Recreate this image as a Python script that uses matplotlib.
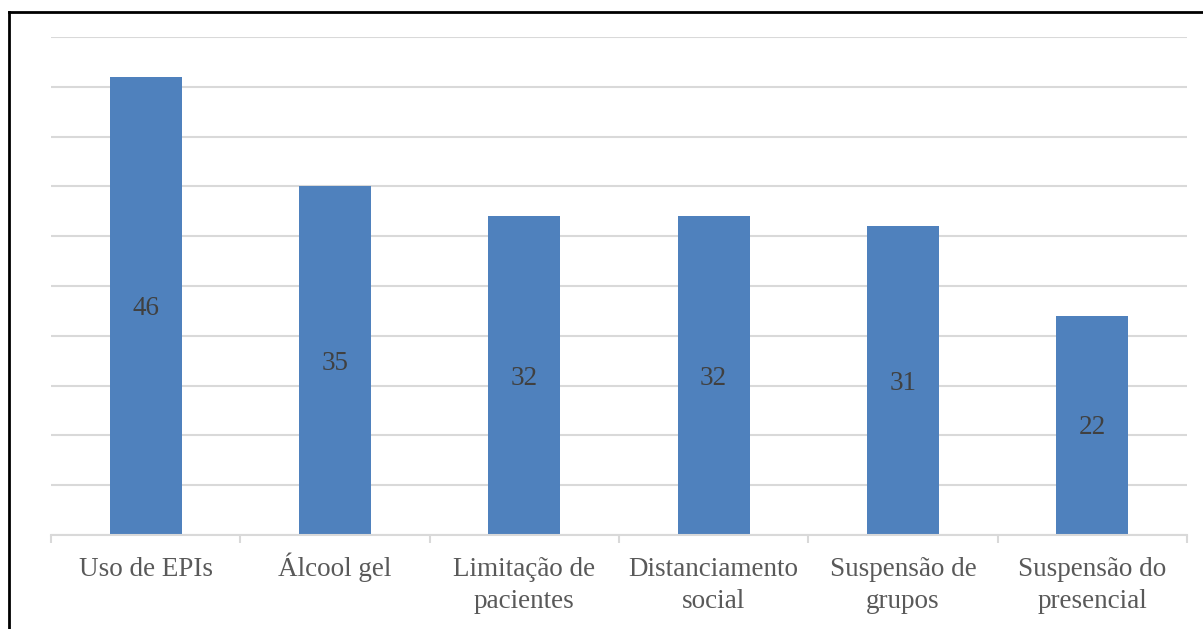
import numpy as np
import matplotlib.pyplot as plt
from matplotlib.lines import Line2D
from matplotlib.transforms import offset_copy

categories = ["Uso de EPIs", "Álcool gel", "Limitação de\npacientes",
              "Distanciamento\nsocial", "Suspensão de\ngrupos", "Suspensão do\npresencial"]
values = [46, 35, 32, 32, 31, 22]

plt.rcParams["font.family"] = ["Liberation Serif", "DejaVu Serif"]
FS = 19.5

fig = plt.figure(figsize=(12.03, 6.29), dpi=100)
ax = fig.add_axes([51 / 1203, 94 / 629, 1136 / 1203, 498 / 629])

x = np.arange(len(categories))
ax.bar(x, values, width=0.38, color="#4f81bd", zorder=2)

# value labels centred inside each bar (baseline shifted by half the digit height)
lbl_tr = offset_copy(ax.transData, fig=fig, x=0, y=-6.5, units="points")
for xi, v in zip(x, values):
    ax.text(xi, v / 2, str(v), ha="center", va="baseline",
            fontsize=FS, color="#404040", zorder=3, transform=lbl_tr)

ax.set_xlim(-0.5, len(categories) - 0.5)
ax.set_ylim(0, 50)
ax.set_yticks(np.arange(0, 51, 5))
ax.yaxis.grid(True, color="#d9d9d9", linewidth=1.5, zorder=0)
ax.tick_params(axis="y", left=False, labelleft=False)

# category names, one text per line so every first line shares a baseline
ax.set_xticks([])
xt = ax.get_xaxis_transform()
for i, name in enumerate(categories):
    for j, line in enumerate(name.split("\n")):
        tr = offset_copy(xt, fig=fig, x=0, y=-29.5 - 23 * j, units="points")
        ax.text(i, 0, line, ha="center", va="baseline", fontsize=FS,
                color="#595959", transform=tr, clip_on=False)

ax.set_xticks(np.arange(-0.5, len(categories)), minor=True)
ax.tick_params(axis="x", which="minor", length=6, width=1.5, color="#d9d9d9")

for side in ("top", "right", "left"):
    ax.spines[side].set_visible(False)
ax.spines["bottom"].set_color("#d9d9d9")
ax.spines["bottom"].set_linewidth(1.5)

# black frame along the top and left edges
fig.add_artist(Line2D([9 / 1203, 1], [1 - 12 / 629, 1 - 12 / 629],
                      transform=fig.transFigure, color="black", linewidth=2))
fig.add_artist(Line2D([9 / 1203, 9 / 1203], [0, 1 - 12 / 629],
                      transform=fig.transFigure, color="black", linewidth=2))

fig.savefig("out.png", dpi=100)
